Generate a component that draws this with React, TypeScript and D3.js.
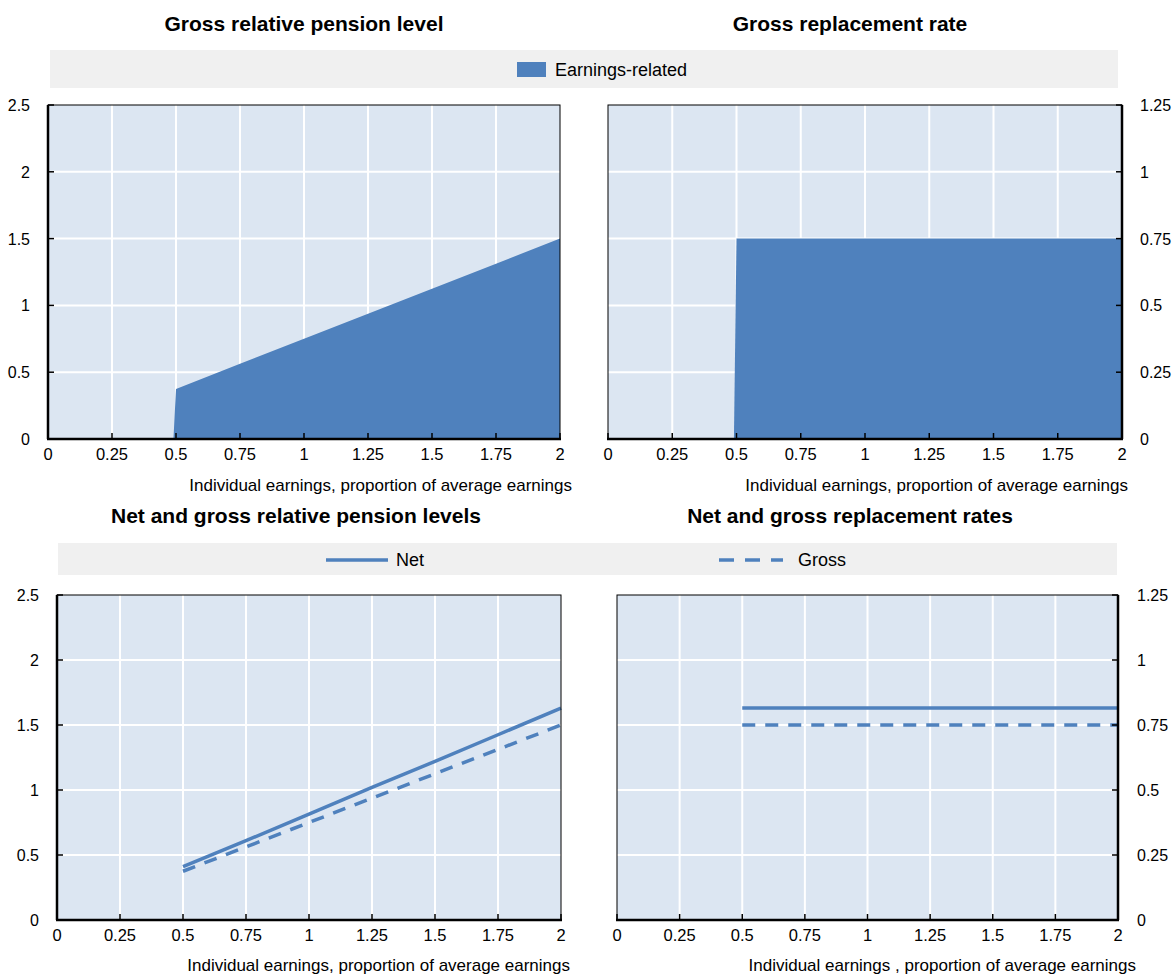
import React from "react";
import * as d3 from "d3";

// values
const xTicks = [0, 0.25, 0.5, 0.75, 1, 1.25, 1.5, 1.75, 2];
const levelTicks = [0, 0.5, 1, 1.5, 2, 2.5];
const rateTicks = [0, 0.25, 0.5, 0.75, 1, 1.25];

const entryEarnings = 0.49; // pension starts just below 0.5
const earnings = [0.5, 0.75, 1, 1.25, 1.5, 1.75, 2];
const grossLevel = [0.375, 0.5625, 0.75, 0.9375, 1.125, 1.3125, 1.5];
const netLevel = [0.41, 0.61, 0.815, 1.02, 1.22, 1.425, 1.63];
const grossRate = [0.75, 0.75, 0.75, 0.75, 0.75, 0.75, 0.75];
const netRate = [0.815, 0.815, 0.815, 0.815, 0.815, 0.815, 0.815];

const BLUE = "#4f81bd";
const BG = "#dce6f2";
const FONT = "'Liberation Sans', Arial, sans-serif";

type Series = { values: number[]; dashed?: boolean };

type PanelProps = {
  left: number;
  right: number;
  top: number;
  bottom: number;
  yMax: number;
  yTicks: number[];
  yRight?: boolean;
  labelOffset: number;
  area?: number[];
  lines?: Series[];
  xTitle: string;
  xTitleEnd: number;
  xTitleY: number;
};

const Panel = (p: PanelProps) => {
  const x = d3.scaleLinear().domain([0, 2]).range([p.left, p.right]);
  const y = d3.scaleLinear().domain([0, p.yMax]).range([p.bottom, p.top]);
  const axisX = p.yRight ? p.right : p.left;
  const tickDir = p.yRight ? -1 : 1;

  let areaPath: string | null = null;
  if (p.area) {
    const pts: [number, number][] = [[entryEarnings, 0]];
    earnings.forEach((e, i) => pts.push([e, p.area![i]]));
    areaPath = d3
      .area<[number, number]>()
      .x((d) => x(d[0]))
      .y0(y(0))
      .y1((d) => y(d[1]))(pts);
  }

  const line = d3
    .line<number>()
    .x((_, i) => x(earnings[i]))
    .y((d) => y(d));

  return (
    <g>
      <rect x={p.left} y={p.top} width={p.right - p.left} height={p.bottom - p.top} fill={BG} />
      {xTicks.slice(1, -1).map((t) => (
        <line key={"gx" + t} x1={x(t)} x2={x(t)} y1={p.top} y2={p.bottom} stroke="#fff" strokeWidth={2} />
      ))}
      {p.yTicks.slice(1, -1).map((t) => (
        <line key={"gy" + t} x1={p.left} x2={p.right} y1={y(t)} y2={y(t)} stroke="#fff" strokeWidth={2} />
      ))}
      {areaPath && <path d={areaPath} fill={BLUE} />}
      {p.lines?.map((s, i) => (
        <path
          key={i}
          d={line(s.values) || ""}
          fill="none"
          stroke={BLUE}
          strokeWidth={3.5}
          strokeDasharray={s.dashed ? "13,10" : undefined}
        />
      ))}
      <rect x={p.left} y={p.top} width={p.right - p.left} height={p.bottom - p.top} fill="none" stroke="#000" strokeWidth={1} />
      <line x1={p.left - 1} x2={p.right + 1} y1={p.bottom} y2={p.bottom} stroke="#000" strokeWidth={2.5} />
      <line x1={axisX} x2={axisX} y1={p.top} y2={p.bottom} stroke="#000" strokeWidth={2.5} />
      {xTicks.map((t) => (
        <g key={"tx" + t}>
          <line x1={x(t)} x2={x(t)} y1={p.bottom} y2={p.bottom - 6} stroke="#000" strokeWidth={1.5} />
          <text x={x(t)} y={p.bottom + 21} textAnchor="middle" fontSize={16.5} fontFamily={FONT}>
            {String(t)}
          </text>
        </g>
      ))}
      {p.yTicks.map((t) => (
        <g key={"ty" + t}>
          <line x1={axisX} x2={axisX + tickDir * 6} y1={y(t)} y2={y(t)} stroke="#000" strokeWidth={1.5} />
          <text
            x={axisX - tickDir * p.labelOffset}
            y={y(t) + 6}
            textAnchor={p.yRight ? "start" : "end"}
            fontSize={16}
            fontFamily={FONT}
          >
            {String(t)}
          </text>
        </g>
      ))}
      <text x={p.xTitleEnd} y={p.xTitleY} textAnchor="end" fontSize={17} fontFamily={FONT}>
        {p.xTitle}
      </text>
    </g>
  );
};

const Title = ({ x, y, text }: { x: number; y: number; text: string }) => (
  <text x={x} y={y} textAnchor="middle" fontSize={21} fontWeight="bold" fontFamily={FONT}>
    {text}
  </text>
);

export default function App() {
  const xTitle = "Individual earnings, proportion of average earnings";
  return (
    <svg width={1173} height={975} style={{ position: "absolute", left: 0, top: 0, background: "#fff" }}>
      <Title x={304} y={31} text="Gross relative pension level" />
      <Title x={850} y={31} text="Gross replacement rate" />

      <rect x={50} y={50} width={1068} height={38} fill="#f0f0f0" />
      <rect x={517} y={62} width={29} height={15} fill={BLUE} />
      <text x={555} y={76} fontSize={18} fontFamily={FONT}>Earnings-related</text>

      <Panel
        left={48} right={560} top={105} bottom={439}
        yMax={2.5} yTicks={levelTicks} labelOffset={18}
        area={grossLevel}
        xTitle={xTitle} xTitleEnd={572} xTitleY={491}
      />
      <Panel
        left={608} right={1122} top={105} bottom={439}
        yMax={1.25} yTicks={rateTicks} yRight labelOffset={18}
        area={grossRate}
        xTitle={xTitle} xTitleEnd={1128} xTitleY={491}
      />

      <Title x={296} y={523} text="Net and gross relative pension levels" />
      <Title x={850} y={523} text="Net and gross replacement rates" />

      <rect x={58} y={543} width={1059} height={32} fill="#f0f0f0" />
      <line x1={326} x2={388} y1={560} y2={560} stroke={BLUE} strokeWidth={3.5} />
      <text x={396} y={566} fontSize={18} fontFamily={FONT}>Net</text>
      <line x1={719} x2={783} y1={560} y2={560} stroke={BLUE} strokeWidth={3.5} strokeDasharray="15,11" />
      <text x={798} y={566} fontSize={18} fontFamily={FONT}>Gross</text>

      <Panel
        left={57} right={561} top={595} bottom={920}
        yMax={2.5} yTicks={levelTicks} labelOffset={18}
        lines={[{ values: netLevel }, { values: grossLevel, dashed: true }]}
        xTitle={xTitle} xTitleEnd={570} xTitleY={971}
      />
      <Panel
        left={617} right={1118} top={595} bottom={920}
        yMax={1.25} yTicks={rateTicks} yRight labelOffset={19}
        lines={[{ values: netRate }, { values: grossRate, dashed: true }]}
        xTitle="Individual earnings , proportion of average earnings" xTitleEnd={1136} xTitleY={971}
      />
    </svg>
  );
}
